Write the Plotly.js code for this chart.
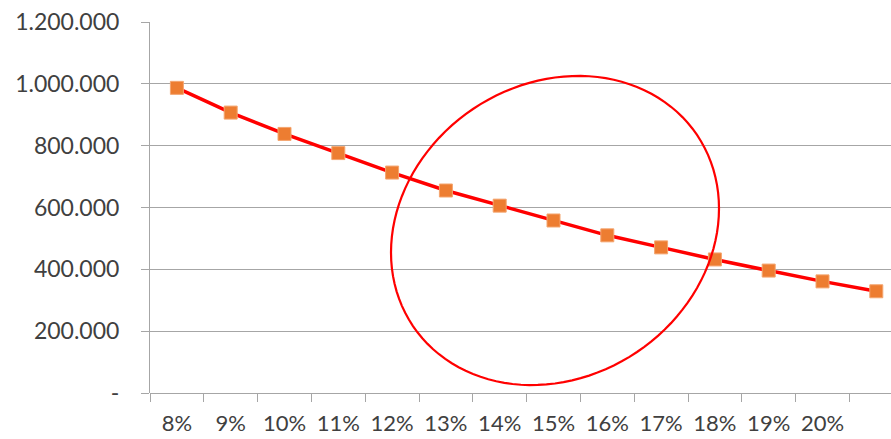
<!DOCTYPE html>
<html>
<head>
<meta charset="utf-8">
<script src="https://cdn.plot.ly/plotly-3.0.1.min.js"></script>
<style>
  html, body { margin: 0; padding: 0; background: #fff; }
  #chart { width: 891px; height: 439px; }
</style>
</head>
<body>
<div id="chart"></div>
<script>
// ---- data ----
const categories = ['8%', '9%', '10%', '11%', '12%', '13%', '14%', '15%', '16%', '17%', '18%', '19%', '20%', ' '];
const values = [987000, 907000, 838000, 776000, 713000, 655000, 606000, 558000, 510000, 471000, 432000, 396000, 361000, 329000];
const yTickVals = [0, 200000, 400000, 600000, 800000, 1000000, 1200000];
const yTickText = ['-', '200.000', '400.000', '600.000', '800.000', '1.000.000', '1.200.000'];

// ---- layout geometry (pixels) ----
const W = 891, H = 439;
const M = { l: 150, r: 0, t: 22, b: 46 };
const plotW = W - M.l - M.r, plotH = H - M.t - M.b;

// highlight ellipse (screen px): centre, x half-extent, tilt offset, minor term
const ell = { cx: 555, cy: 230.5, ax: 164, rho: 22, s: 153 };
let path = '';
for (let i = 0; i <= 120; i++) {
  const t = (i / 120) * 2 * Math.PI;
  const sx = ell.cx + ell.ax * Math.cos(t);
  const sy = ell.cy - ell.rho * Math.cos(t) - ell.s * Math.sin(t);
  const px = (sx - M.l) / plotW;
  const py = (H - M.b - sy) / plotH;
  path += (i === 0 ? 'M' : 'L') + px.toFixed(5) + ',' + py.toFixed(5);
}
path += 'Z';

const font = { family: 'Lato, "Open Sans", sans-serif', size: 23, color: '#404040' };
const xfont = { family: 'Lato, "Open Sans", sans-serif', size: 22, color: '#404040' };

const trace = {
  x: categories,
  y: values,
  type: 'scatter',
  mode: 'lines+markers',
  line: { color: '#ff0000', width: 3.5 },
  marker: { symbol: 'square', size: 13, color: '#ed7d31', line: { color: '#f4a56f', width: 1 } },
  hoverinfo: 'none'
};

const layout = {
  width: W, height: H,
  margin: M,
  paper_bgcolor: '#ffffff',
  plot_bgcolor: '#ffffff',
  showlegend: false,
  font: font,
  xaxis: {
    type: 'category',
    categoryorder: 'array',
    categoryarray: categories,
    range: [-0.5, -0.5 + plotW / 53.8],
    showgrid: false,
    zeroline: false,
    showline: false,
    ticks: 'outside',
    tickson: 'boundaries',
    ticklen: 8,
    tickwidth: 1,
    tickcolor: '#a6a6a6',
    tickfont: xfont,
    tickangle: 0,
    ticklabelstandoff: 15,
    fixedrange: true
  },
  yaxis: {
    range: [0, 1200000],
    tickvals: yTickVals,
    ticktext: yTickText,
    showgrid: true,
    gridcolor: '#a6a6a6',
    gridwidth: 1,
    zeroline: true,
    zerolinecolor: '#a6a6a6',
    zerolinewidth: 1,
    showline: true,
    linecolor: '#a6a6a6',
    linewidth: 1,
    ticks: 'outside',
    ticklen: 8,
    tickwidth: 1,
    tickcolor: '#a6a6a6',
    tickfont: font,
    ticklabelstandoff: 17,
    fixedrange: true
  },
  shapes: [{
    type: 'path',
    xref: 'paper', yref: 'paper',
    path: path,
    line: { color: '#ff0000', width: 2.2 },
    fillcolor: 'rgba(0,0,0,0)',
    layer: 'above'
  }]
};

Plotly.newPlot('chart', [trace], layout, { displayModeBar: false, staticPlot: true });
</script>
</body>
</html>
